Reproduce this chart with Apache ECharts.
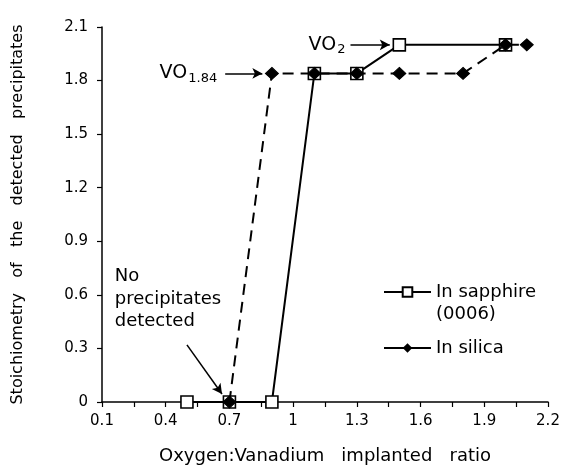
<!DOCTYPE html>
<html><head><meta charset="utf-8">
<script src="https://cdn.jsdelivr.net/npm/echarts@6/dist/echarts.min.js"></script>
<style>html,body{margin:0;padding:0;background:#fff}#c{width:563px;height:474px}</style>
</head><body><div id="c"></div>
<script>
const xTicks = [0.1, 0.4, 0.7, 1, 1.3, 1.6, 1.9, 2.2];
const yTicks = [0, 0.3, 0.6, 0.9, 1.2, 1.5, 1.8, 2.1];
const sapphireX = [0.5, 0.7, 0.9, 1.1, 1.3, 1.5, 2.0];
const sapphireY = [0, 0, 0, 1.84, 1.84, 2.0, 2.0];
const silicaX = [0.7, 0.9, 1.1, 1.3, 1.5, 1.8, 2.0, 2.1];
const silicaY = [0, 1.84, 1.84, 1.84, 1.84, 1.84, 2.0, 2.0];
const seriesNames = ['In sapphire', 'In silica'];
const FONT = 'DejaVu Sans';

const chart = echarts.init(document.getElementById('c'), null, {renderer: 'canvas'});
const zip = (xs, ys) => xs.map((x, i) => [x, ys[i]]);
const arrowLine = {color: '#000', width: 1.5, type: 'solid'};
const subRich = {
  a: {fontSize: 19, fontFamily: FONT, color: '#000'},
  s: {fontSize: 13, fontFamily: FONT, color: '#000', padding: [10, 0, 0, 1]}
};

chart.setOption({
  animation: false,
  backgroundColor: '#fff',
  textStyle: {fontFamily: FONT, color: '#000'},
  grid: {left: 102, right: 15, top: 27, bottom: 72},
  xAxis: {
    type: 'value', min: xTicks[0], max: xTicks[xTicks.length - 1], interval: 0.3,
    name: 'Oxygen:Vanadium   implanted   ratio', nameLocation: 'middle', nameGap: 45,
    nameTextStyle: {fontSize: 18, color: '#000', fontFamily: FONT},
    axisLine: {lineStyle: {color: '#000', width: 1.5}},
    axisTick: {show: true, length: 5, lineStyle: {color: '#000', width: 1.2}},
    minorTick: {show: true, splitNumber: 2, length: 5, lineStyle: {color: '#000', width: 1.2}},
    splitLine: {show: false},
    axisLabel: {fontSize: 15, color: '#000', margin: 12, fontFamily: FONT,
      formatter: v => String(+v.toFixed(1))}
  },
  yAxis: {
    type: 'value', min: yTicks[0], max: yTicks[yTicks.length - 1], interval: 0.3,
    name: 'Stoichiometry   of   the   detected   precipitates', nameLocation: 'middle', nameGap: 76,
    nameTextStyle: {fontSize: 16, color: '#000', fontFamily: FONT},
    axisLine: {show: true, lineStyle: {color: '#000', width: 1.5}},
    axisTick: {show: true, length: 5, lineStyle: {color: '#000', width: 1.2}},
    splitLine: {show: false},
    axisLabel: {fontSize: 15, color: '#000', margin: 14, fontFamily: FONT,
      formatter: v => String(+v.toFixed(1))}
  },
  legend: {
    left: 383, top: 259, orient: 'vertical', itemGap: 12, padding: 0,
    itemWidth: 47, itemHeight: 12,
    textStyle: {fontSize: 18, color: '#000', fontFamily: FONT, lineHeight: 22},
    formatter: name => name === seriesNames[0] ? '\n' + name + '\n(0006)' : name,
    data: [
      {name: seriesNames[0], lineStyle: {type: 'solid'}},
      {name: seriesNames[1], lineStyle: {type: 'solid'}}
    ]
  },
  series: [
    {
      name: seriesNames[0], type: 'line', data: zip(sapphireX, sapphireY),
      symbol: 'rect', symbolSize: 12, showAllSymbol: true,
      lineStyle: {color: '#000', width: 2},
      itemStyle: {color: '#fff', borderColor: '#000', borderWidth: 1.6},
      z: 2,
      markLine: {
        silent: true, symbol: ['none', 'arrow'], symbolSize: [8, 10],
        lineStyle: arrowLine,
        label: {show: true, position: 'start', distance: 5, color: '#000',
          formatter: '{a|VO}{s|2}', rich: subRich},
        data: [[{coord: [1.27, 2.0]}, {coord: [1.455, 2.0]}]]
      }
    },
    {
      name: seriesNames[1], type: 'line', data: zip(silicaX, silicaY),
      symbol: 'diamond', symbolSize: [13, 12], showAllSymbol: true,
      lineStyle: {color: '#000', width: 2, type: [11, 7]},
      itemStyle: {color: '#000', borderColor: '#000'},
      z: 3,
      markLine: {
        silent: true, symbol: ['none', 'arrow'], symbolSize: [8, 10],
        lineStyle: arrowLine,
        label: {show: true, position: 'start', distance: 8, color: '#000',
          formatter: '{a|VO}{s|1.84}', rich: subRich},
        data: [
          [{coord: [0.68, 1.84]}, {coord: [0.855, 1.84]}],
          [{coord: [0.5, 0.32], label: {show: false}}, {coord: [0.665, 0.045]}]
        ]
      }
    },
    {
      type: 'scatter', silent: true, symbolSize: 0, data: [[0.16, 0.575]],
      itemStyle: {opacity: 1},
      label: {show: true, position: 'right', distance: 0, color: '#000', fontSize: 18,
        fontFamily: FONT, lineHeight: 22.5, align: 'left', opacity: 1,
        formatter: 'No\nprecipitates\ndetected'},
      emphasis: {disabled: true},
      tooltip: {show: false}
    }
  ]
});
</script></body></html>
